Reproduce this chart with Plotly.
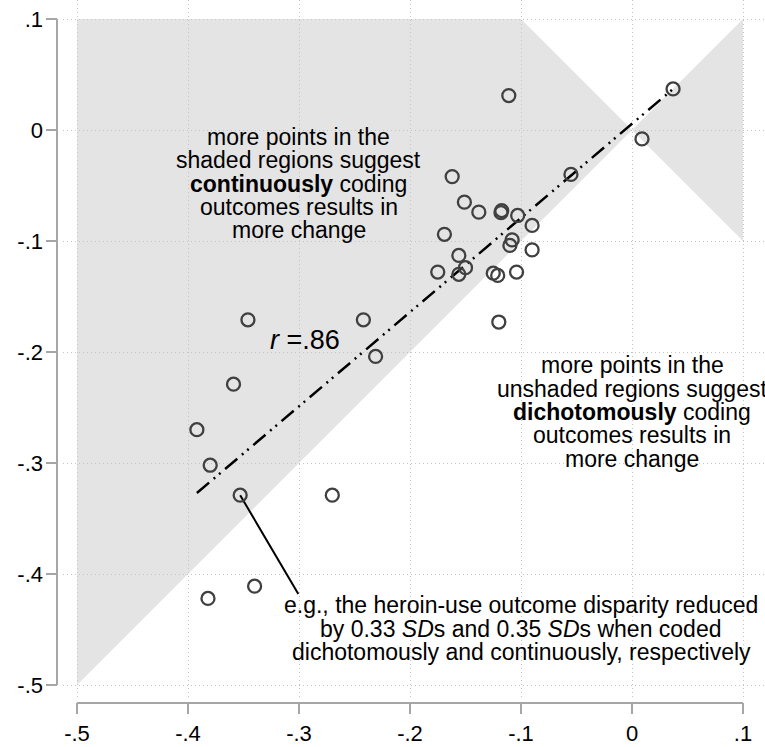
import plotly.graph_objects as go

# ---- data ----
# x: change when coded continuously, y: change when coded dichotomously
cont_x = [-0.111, 0.037, 0.009, -0.055, -0.162, -0.151, -0.138, -0.1174, -0.118, -0.103,
          -0.090, -0.169, -0.108, -0.110, -0.090, -0.156, -0.150, -0.156, -0.175, -0.125,
          -0.121, -0.104, -0.120, -0.346, -0.242, -0.231, -0.359, -0.392, -0.380, -0.353,
          -0.270, -0.340, -0.382]
dich_y = [0.031, 0.037, -0.008, -0.040, -0.042, -0.065, -0.074, -0.0726, -0.0745, -0.077,
          -0.086, -0.094, -0.099, -0.104, -0.108, -0.113, -0.124, -0.130, -0.128, -0.129,
          -0.131, -0.128, -0.173, -0.171, -0.171, -0.204, -0.229, -0.270, -0.302, -0.329,
          -0.329, -0.411, -0.422]

fit_x = [-0.392, 0.037]
fit_y = [-0.327, 0.037]

pointer_x = [-0.353, -0.3006]
pointer_y = [-0.329, -0.418]

shade_left_x = [-0.5, 0.0, -0.1, -0.5]
shade_left_y = [-0.5, 0.0, 0.1, 0.1]
shade_right_x = [0.0, 0.1, 0.1]
shade_right_y = [0.0, 0.1, -0.1]

tick_vals = [-0.5, -0.4, -0.3, -0.2, -0.1, 0.0, 0.1]
tick_text = ["-.5", "-.4", "-.3", "-.2", "-.1", "0", ".1"]

text_top = ["more points in the", "shaded regions suggest", "<b>continuously</b> coding",
            "outcomes results in", "more change"]
text_right = ["more points in the", "unshaded regions suggest", "<b>dichotomously</b> coding",
              "outcomes results in", "more change"]
text_bottom = ["e.g., the heroin-use outcome disparity reduced",
               "by 0.33 <i>SD</i>s and 0.35 <i>SD</i>s when coded",
               "dichotomously and continuously, respectively"]
r_text = "<i>r</i> =.86"

# ---- layout geometry ----
W, H = 765, 747
ML, MT, MB = 63, 0, 47
PW, PH = W - ML, H - MT - MB
FONT = "Liberation Sans, Arial, Helvetica, sans-serif"


def px2paper(px, py):
    return (px - ML) / PW, 1 - (py - MT) / PH


def path_from(xs, ys):
    s = "M " + " L ".join(f"{x},{y}" for x, y in zip(xs, ys)) + " Z"
    return s


fig = go.Figure()

fig.add_trace(go.Scatter(x=fit_x, y=fit_y, mode="lines",
                         line=dict(color="black", width=2.5, dash="16px,6px,2px,5px,2px,6px"),
                         hoverinfo="skip", showlegend=False))
fig.add_trace(go.Scatter(x=pointer_x, y=pointer_y, mode="lines",
                         line=dict(color="black", width=2),
                         hoverinfo="skip", showlegend=False))
fig.add_trace(go.Scatter(x=cont_x, y=dich_y, mode="markers",
                         marker=dict(symbol="circle-open", size=13, color="#404040",
                                     line=dict(width=2.3, color="#404040")),
                         showlegend=False))

shapes = [
    dict(type="path", path=path_from(shade_left_x, shade_left_y), xref="x", yref="y",
         fillcolor="#e4e4e4", line=dict(width=0), layer="below"),
    dict(type="path", path=path_from(shade_right_x, shade_right_y), xref="x", yref="y",
         fillcolor="#e4e4e4", line=dict(width=0), layer="below"),
]
axis_col = "#a6a6a6"
# y axis line and ticks
yax_x = px2paper(57, 0)[0]
ytick_x0 = px2paper(46, 0)[0]
shapes.append(dict(type="line", xref="paper", yref="y", x0=yax_x, x1=yax_x,
                   y0=tick_vals[0], y1=tick_vals[-1], line=dict(color=axis_col, width=2)))
for v in tick_vals:
    shapes.append(dict(type="line", xref="paper", yref="y", x0=ytick_x0, x1=yax_x,
                       y0=v, y1=v, line=dict(color=axis_col, width=2)))
# x axis line and ticks
xax_y = px2paper(0, 703)[1]
xtick_y1 = px2paper(0, 714)[1]
shapes.append(dict(type="line", xref="x", yref="paper", x0=tick_vals[0], x1=tick_vals[-1],
                   y0=xax_y, y1=xax_y, line=dict(color=axis_col, width=2)))
for v in tick_vals:
    shapes.append(dict(type="line", xref="x", yref="paper", x0=v, x1=v,
                       y0=xax_y, y1=xtick_y1, line=dict(color=axis_col, width=2)))

annotations = []


def add_lines(lines, cx, centers, size=23):
    for t, cy in zip(lines, centers):
        xp, yp = px2paper(cx, cy)
        annotations.append(dict(text=t, x=xp, y=yp, xref="paper", yref="paper",
                                xanchor="center", yanchor="middle", showarrow=False,
                                font=dict(family=FONT, size=size, color="black")))


add_lines(text_top, 298.6, [137, 160.3, 183.7, 207, 230.3])
add_lines(text_right, 632, [365.3, 388.7, 412, 435.3, 458.7])
add_lines(text_bottom, 521, [605.3, 628.7, 652])
add_lines([r_text], 305, [340], size=27)

scale = 1110.0
x_lo = -0.5 - 14 / scale
x_hi = x_lo + PW / scale
y_hi = 0.1 + 19 / scale
y_lo = y_hi - PH / scale

grid_kw = dict(showgrid=True, gridcolor="#c4c4c4", griddash="1px,3px", gridwidth=1,
               zeroline=False, showline=False, ticks="",
               tickfont=dict(size=22, family=FONT, color="black"))

fig.update_layout(
    width=W, height=H,
    margin=dict(l=ML, r=0, t=MT, b=MB, pad=0),
    paper_bgcolor="white", plot_bgcolor="white",
    shapes=shapes, annotations=annotations,
    showlegend=False,
    font=dict(family=FONT, size=22, color="black"),
    xaxis=dict(range=[x_lo, x_hi], tickvals=tick_vals, ticktext=tick_text,
               ticklabelstandoff=18, **grid_kw),
    yaxis=dict(range=[y_lo, y_hi], tickvals=tick_vals, ticktext=tick_text,
               ticklabelstandoff=19, **grid_kw),
)

fig.write_html("out.html")
